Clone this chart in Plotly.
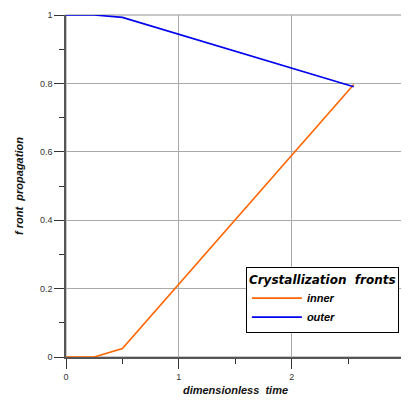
import plotly.graph_objects as go

t = [0, 0.25, 0.5, 2.55]
inner = [0, 0, 0.025, 0.797]
outer = [1, 1, 0.993, 0.79]
x_ticks = [0, 1, 2, 3]
y_ticks = [0, 0.2, 0.4, 0.6, 0.8, 1]
y_tick_labels = ["0", "0.2", "0.4", "0.6", "0.8", "1"]

fig = go.Figure()
fig.add_trace(go.Scatter(x=t, y=inner, mode="lines", name="<b><i>inner</i></b>",
                         line=dict(color="#ff6600", width=1.6)))
fig.add_trace(go.Scatter(x=t, y=outer, mode="lines", name="<b><i>outer</i></b>",
                         line=dict(color="#0000ee", width=1.6)))

fig.add_shape(type="rect", xref="paper", yref="paper", x0=0, y0=0, x1=1, y1=1,
              line=dict(color="#c8c8c8", width=2), layer="below")

axis_common = dict(showgrid=True, gridcolor="#aaaaaa", gridwidth=1,
                   showline=True, linecolor="#555555", linewidth=1.5,
                   ticks="outside", ticklen=10, tickcolor="#333333", tickwidth=1,
                   zeroline=False, automargin=False, ticklabeloverflow="allow",
                   tickfont=dict(family="Liberation Sans, Arial", size=9, color="#333333"))

fig.update_xaxes(range=[0, 3.004], tickvals=x_ticks, ticktext=[str(v) for v in x_ticks],
                 minor=dict(dtick=0.5, ticks="outside", ticklen=5, tickcolor="#333333", showgrid=False),
                 title=dict(text="<b><i>dimensionless  time</i></b>", standoff=6,
                            font=dict(family="Liberation Sans, Arial", size=11, color="#111111")),
                 **axis_common)
fig.update_yaxes(range=[0, 1], tickvals=y_ticks, ticktext=y_tick_labels,
                 minor=dict(dtick=0.1, ticks="outside", ticklen=5, tickcolor="#333333", showgrid=False),
                 title=dict(text="<b><i>f ront  propagation</i></b>", standoff=14,
                            font=dict(family="Liberation Sans, Arial", size=11, color="#111111")),
                 **axis_common)

fig.update_layout(
    width=409, height=395,
    margin=dict(l=58, r=12, t=7, b=46),
    paper_bgcolor="white", plot_bgcolor="white",
    showlegend=True,
    legend=dict(x=0.982, y=0.263, xanchor="right", yanchor="top",
                bgcolor="white", bordercolor="#000000", borderwidth=1,
                font=dict(family="Liberation Sans, Arial", size=11, color="#000000"),
                title=dict(text="<b><i>Crystallization  fronts</i></b>",
                           font=dict(family="DejaVu Sans", size=12, color="#000000"),
                           side="top"),
                tracegroupgap=0, itemwidth=50),
)

fig.write_html("out.html")
